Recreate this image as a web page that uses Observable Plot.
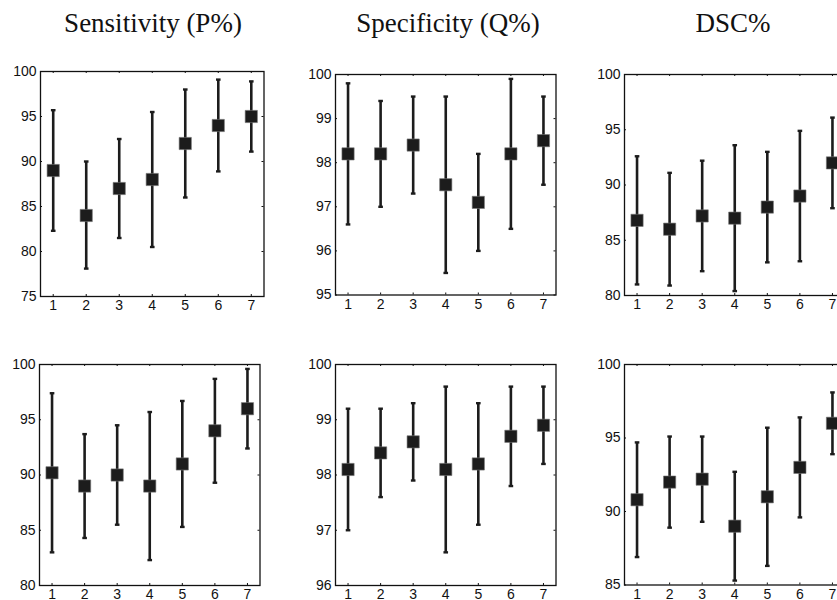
<!DOCTYPE html>
<html><head><meta charset="utf-8">
<script src="https://cdn.jsdelivr.net/npm/d3@7"></script>
<script src="https://cdn.jsdelivr.net/npm/@observablehq/plot@0.6"></script>
<style>
html,body{margin:0;padding:0;background:#fff;}
#root{position:relative;width:837px;height:600px;overflow:hidden;background:#fff;}
.title{position:absolute;top:10px;font-family:"Liberation Serif","DejaVu Serif",serif;font-size:27px;line-height:27px;color:#111;transform:translateX(-50%);white-space:nowrap;}
.panel{position:absolute;}
</style></head><body><div id="root"></div>
<script>
// ---- data ----
const methods = [1, 2, 3, 4, 5, 6, 7];
const titles = ["Sensitivity (P%)", "Specificity (Q%)", "DSC%"];

const sensTopMean = [89.0, 84.0, 87.0, 88.0, 92.0, 94.0, 95.0];
const sensTopLo   = [82.3, 78.1, 81.5, 80.5, 86.0, 88.9, 91.1];
const sensTopHi   = [95.7, 90.0, 92.5, 95.5, 98.0, 99.1, 98.9];

const specTopMean = [98.2, 98.2, 98.4, 97.5, 97.1, 98.2, 98.5];
const specTopLo   = [96.6, 97.0, 97.3, 95.5, 96.0, 96.5, 97.5];
const specTopHi   = [99.8, 99.4, 99.5, 99.5, 98.2, 99.9, 99.5];

const dscTopMean  = [86.8, 86.0, 87.2, 87.0, 88.0, 89.0, 92.0];
const dscTopLo    = [81.0, 80.9, 82.2, 80.4, 83.0, 83.1, 87.9];
const dscTopHi    = [92.6, 91.1, 92.2, 93.6, 93.0, 94.9, 96.1];

const sensBotMean = [90.2, 89.0, 90.0, 89.0, 91.0, 94.0, 96.0];
const sensBotLo   = [83.0, 84.3, 85.5, 82.3, 85.3, 89.3, 92.4];
const sensBotHi   = [97.4, 93.7, 94.5, 95.7, 96.7, 98.7, 99.6];

const specBotMean = [98.1, 98.4, 98.6, 98.1, 98.2, 98.7, 98.9];
const specBotLo   = [97.0, 97.6, 97.9, 96.6, 97.1, 97.8, 98.2];
const specBotHi   = [99.2, 99.2, 99.3, 99.6, 99.3, 99.6, 99.6];

const dscBotMean  = [90.8, 92.0, 92.2, 89.0, 91.0, 93.0, 96.0];
const dscBotLo    = [86.9, 88.9, 89.3, 85.3, 86.3, 89.6, 93.9];
const dscBotHi    = [94.7, 95.1, 95.1, 92.7, 95.7, 96.4, 98.1];

// y-axis tick labels (first/last give the domain)
const sensTopTicks = [75, 80, 85, 90, 95, 100];
const specTopTicks = [95, 96, 97, 98, 99, 100];
const dscTopTicks  = [80, 85, 90, 95, 100];
const sensBotTicks = [80, 85, 90, 95, 100];
const specBotTicks = [96, 97, 98, 99, 100];
const dscBotTicks  = [85, 90, 95, 100];

// ---- layout (frame pixel boxes) ----
const panels = [
  {mean: sensTopMean, lo: sensTopLo, hi: sensTopHi, ticks: sensTopTicks, box: [39.5, 71, 263, 296]},
  {mean: specTopMean, lo: specTopLo, hi: specTopHi, ticks: specTopTicks, box: [334.5, 74, 555, 294.5]},
  {mean: dscTopMean,  lo: dscTopLo,  hi: dscTopHi,  ticks: dscTopTicks,  box: [623.5, 74, 844, 295]},
  {mean: sensBotMean, lo: sensBotLo, hi: sensBotHi, ticks: sensBotTicks, box: [38.5, 363.5, 259, 584.5]},
  {mean: specBotMean, lo: specBotLo, hi: specBotHi, ticks: specBotTicks, box: [334.5, 363.5, 555, 584.5]},
  {mean: dscBotMean,  lo: dscBotLo,  hi: dscBotHi,  ticks: dscBotTicks,  box: [623.5, 363.5, 844, 584]}
];
const titleX = [153, 448, 733];

const root = document.getElementById("root");
titles.forEach((t, i) => {
  const d = document.createElement("div");
  d.className = "title";
  d.style.left = titleX[i] + "px";
  d.textContent = t;
  root.appendChild(d);
});

const capSymbol = {
  draw(ctx, size) {
    const w = Math.sqrt(size) / 2;
    ctx.moveTo(-w, 0); ctx.lineTo(w, 0);
  }
};

const mL = 40, mR = 10, mT = 10, mB = 26;
const ink = "#1c1c1c";

panels.forEach(p => {
  const [L, T, R, B] = p.box;
  const fw = R - L, fh = B - T;
  const W = fw + mL + mR, H = fh + mT + mB;
  const rows = methods.map((m, i) => ({m, mean: p.mean[i], lo: p.lo[i], hi: p.hi[i]}));
  const yDomain = [p.ticks[0], p.ticks[p.ticks.length - 1]];
  const chart = Plot.plot({
    width: W, height: H,
    marginLeft: mL, marginRight: mR, marginTop: mT, marginBottom: mB,
    style: {fontFamily: "'Liberation Sans', Arial, sans-serif", fontSize: "14px", color: "#111", background: "transparent", overflow: "visible"},
    x: {domain: [0.615, 7.385], label: null},
    y: {domain: yDomain, label: null},
    marks: [
      Plot.axisX(methods, {anchor: "bottom", label: null, tickSize: 0, tickPadding: 4, tickFormat: d => String(d), fontSize: 14}),
      Plot.axisY(p.ticks, {anchor: "left", label: null, tickSize: 0, tickPadding: 4, tickFormat: d => String(d), fontSize: 14}),
      Plot.tickX(methods, {x: d => d, insetTop: fh - 2, stroke: "#111"}),
      Plot.tickX(methods, {x: d => d, insetBottom: fh - 2, stroke: "#111"}),
      Plot.tickY(p.ticks, {y: d => d, insetRight: fw - 2, stroke: "#111"}),
      Plot.tickY(p.ticks, {y: d => d, insetLeft: fw - 2, stroke: "#111"}),
      Plot.frame({stroke: "#111", strokeWidth: 1.3}),
      Plot.ruleX(rows, {x: "m", y1: "lo", y2: "hi", stroke: ink, strokeWidth: 2.6}),
      Plot.dot(rows, {x: "m", y: "lo", symbol: capSymbol, r: 2.6, stroke: ink, strokeWidth: 2.4}),
      Plot.dot(rows, {x: "m", y: "hi", symbol: capSymbol, r: 2.6, stroke: ink, strokeWidth: 2.4}),
      Plot.dot(rows, {x: "m", y: "mean", symbol: "square", r: 6.9, fill: ink, stroke: "#777", strokeWidth: 0.6})
    ]
  });
  chart.classList.add("panel");
  chart.style.left = (L - mL) + "px";
  chart.style.top = (T - mT) + "px";
  root.appendChild(chart);
});
</script>
</body></html>
